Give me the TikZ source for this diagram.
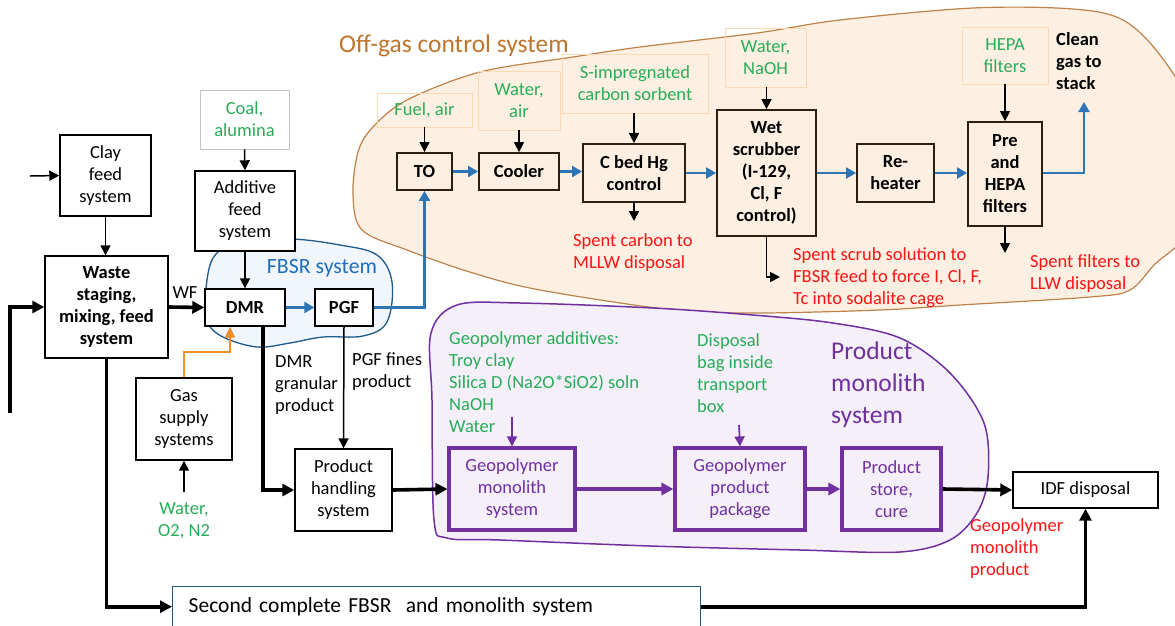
\documentclass[tikz,border=0pt]{standalone}
\usepackage{fontspec}
\setmainfont{Carlito}
\usetikzlibrary{arrows.meta,calc}
\definecolor{txtgreen}{RGB}{40,172,88}
\definecolor{txtred}{RGB}{250,20,20}
\definecolor{procpurple}{RGB}{112,48,160}
\definecolor{flowblue}{RGB}{46,117,182}
\definecolor{gasorange}{RGB}{237,140,40}
\definecolor{ogtitle}{RGB}{190,118,45}
\definecolor{ogedge}{RGB}{190,130,75}
\definecolor{ogfill}{RGB}{253,240,226}
\definecolor{fbedge}{RGB}{30,90,140}
\definecolor{fbfill}{RGB}{240,246,252}
\definecolor{fbtext}{RGB}{30,110,190}
\definecolor{pmfill}{RGB}{244,239,248}
\definecolor{ogbox}{RGB}{45,30,18}
\definecolor{feededge}{RGB}{250,218,180}
\definecolor{coaledge}{RGB}{195,195,195}
\definecolor{secondedge}{RGB}{35,85,125}
\newcommand\basefont{\fontsize{18.5}{22}\selectfont}
\newcommand\bigfont{\fontsize{25.5}{32}\selectfont}

\begin{document}
\begin{tikzpicture}[x=1pt,y=-1pt,font=\basefont,
  blk/.style={draw=black, line width=1.4pt, fill=white, align=center, inner sep=0pt},
  blkb/.style={blk, font=\basefont\bfseries},
  ogproc/.style={draw=ogbox, line width=1.8pt, align=center, inner sep=0pt, font=\basefont\bfseries},
  feed/.style={draw=feededge, line width=0.8pt, align=center, inner sep=0pt, text=txtgreen},
  pproc/.style={draw=procpurple, line width=3.2pt, align=center, inner sep=0pt, text=procpurple},
  note/.style={align=left, inner sep=0pt, anchor=west},
  thinarr/.style={line width=1.5pt, -{Triangle[length=10pt,width=10pt]}},
  thickarr/.style={line width=3.6pt, -{Triangle[length=12pt,width=12pt]}},
  bluearr/.style={draw=flowblue, line width=2.2pt, -{Triangle[length=10pt,width=11pt]}},
  purparr/.style={draw=procpurple, line width=3.2pt, -{Triangle[length=12pt,width=12pt]}},
  purpthin/.style={draw=procpurple, line width=1.7pt, -{Triangle[length=10pt,width=10pt]}},
  orangearr/.style={draw=gasorange, line width=2pt, -{Triangle[length=11pt,width=10pt]}}
]
\useasboundingbox (0,0) rectangle (1175,625);
\clip (0,0) rectangle (1175,625);

% ---------- system envelopes ----------
\draw[draw=ogedge, fill=ogfill, line width=1.2pt] plot[smooth cycle, tension=0.55] coordinates {
  (353,195) (358,152) (373,127) (407,100) (480,72) (573,57) (640,47) (757,33)
  (840,20) (973,8) (1073,9) (1123,20) (1160,55) (1192,110) (1200,180) (1186,235)
  (1155,264) (1130,290) (1090,297) (960,305) (880,310) (757,313) (673,310)
  (540,290) (473,273) (407,250) (362,230)};
\draw[draw=fbedge, fill=fbfill, line width=1.3pt] plot[smooth cycle, tension=0.6] coordinates {
  (205,300) (213,258) (240,243) (290,239) (340,245) (377,255) (392,282)
  (387,322) (363,336) (323,337) (290,343) (257,347) (223,337) (207,322)};
\draw[draw=procpurple, fill=pmfill, line width=1.5pt] plot[smooth cycle, tension=0.55] coordinates {
  (457,305) (520,303) (653,308) (753,315) (833,323) (900,338) (950,373) (984,423)
  (988,477) (977,513) (950,540) (900,552) (800,550) (650,546) (500,540) (447,538)
  (434,520) (432,400) (431,333)};

% ---------- envelope titles ----------
\node[note, text=ogtitle, font=\bigfont] (ogtitle) at (339,46) {Off-gas control system};
\node[text=fbtext, font=\fontsize{21.8}{26}\selectfont, inner sep=0pt] (fbtitle) at (322,268) {FBSR system};
\node[note, text=procpurple, font=\bigfont] (pmtitle) at (831,385) {Product\\monolith\\system};

% ---------- feed and FBSR nodes ----------
\node[blk, minimum width=91, minimum height=81] (clay) at (105.5,175.5) {Clay\\feed\\system};
\node[blk, draw=coaledge, line width=0.9pt, text=txtgreen, minimum width=89, minimum height=59] (coal) at (244.5,119.5) {Coal,\\alumina};
\node[blk, minimum width=100, minimum height=80] (additive) at (245,211) {Additive\\feed\\system};
\node[blkb, minimum width=123, minimum height=102] (waste) at (106.5,307) {Waste\\staging,\\mixing, feed\\system};
\node[blkb, minimum width=80, minimum height=37] (dmr) at (245,307.5) {DMR};
\node[blkb, minimum width=58, minimum height=37] (pgf) at (344,307.5) {PGF};
\node[blk, minimum width=96, minimum height=82] (gas) at (184,419) {Gas\\supply\\systems};
\node[text=txtgreen, align=center, inner sep=0pt] (gasfeed) at (184,521) {Water,\\O2, N2};
\node[blk, minimum width=97, minimum height=82] (handling) at (343.5,490) {Product\\handling\\system};
\node[inner sep=0pt] (wf) at (185,293) {WF};
\node[note] (dmrlbl) at (275,385) {DMR\\granular\\product};
\node[note] (pgflbl) at (352,372) {PGF fines\\product};

% ---------- off-gas nodes ----------
\node[ogproc, minimum width=55, minimum height=37] (to) at (424.5,171.5) {TO};
\node[ogproc, minimum width=80, minimum height=37] (cooler) at (519,171.5) {Cooler};
\node[ogproc, minimum width=102, minimum height=58] (cbed) at (634,173) {C bed Hg\\control};
\node[ogproc, minimum width=99, minimum height=126] (wet) at (766.5,173) {Wet\\scrubber\\(I-129,\\Cl, F\\control)};
\node[ogproc, minimum width=77, minimum height=58] (reheat) at (895.5,173) {Re-\\heater};
\node[ogproc, minimum width=74, minimum height=104] (hepa) at (1005,174) {Pre\\and\\HEPA\\filters};

\node[feed, minimum width=95, minimum height=34] (fuel) at (424.5,110) {Fuel, air};
\node[feed, minimum width=82, minimum height=59] (wair) at (519,100.5) {Water,\\air};
\node[feed, minimum width=146, minimum height=59] (simp) at (635,83.5) {S-impregnated\\carbon sorbent};
\node[feed, minimum width=81, minimum height=59] (naoh) at (765.5,57.5) {Water,\\NaOH};
\node[feed, minimum width=86, minimum height=57] (hepain) at (1005,55.5) {HEPA\\filters};

\node[note, font=\basefont\bfseries] (clean) at (1056,61) {Clean\\gas to\\stack};
\node[note, text=txtred] (spentc) at (573,253) {Spent carbon to\\MLLW disposal};
\node[note, text=txtred] (spents) at (793,278) {Spent scrub solution to\\FBSR feed to force I, Cl, F,\\Tc into sodalite cage};
\node[note, text=txtred] (spentf) at (1030,274) {Spent filters to\\LLW disposal};

% ---------- product monolith nodes ----------
\node[pproc, minimum width=126, minimum height=82] (geomono) at (512,489) {Geopolymer\\monolith\\system};
\node[pproc, minimum width=130, minimum height=82] (geopack) at (740,489) {Geopolymer\\product\\package};
\node[pproc, minimum width=99, minimum height=82] (store) at (891.5,489) {Product\\store,\\cure};
\node[note, text=txtgreen] (addlbl) at (449,382) {Geopolymer additives:\\Troy clay\\Silica D (Na2O*SiO2) soln\\NaOH\\Water};
\node[note, text=txtgreen] (baglbl) at (697,373) {Disposal\\bag inside\\transport\\box};
\node[blk, minimum width=145, minimum height=36] (idf) at (1085.5,490) {IDF disposal};
\node[note, text=txtred] (geoprod) at (970,549) {Geopolymer\\monolith\\product};
\node[blk, draw=secondedge, anchor=north west, minimum width=528, minimum height=40,
      text width=496, inner xsep=16pt, align=left, font=\fontsize{21.5}{26}\selectfont] (second) at (172,586)
      {Second complete FBSR \ and monolith system};

% ---------- free connector ends ----------
\coordinate (clayin) at (30,176);
\coordinate (wastein) at (10,413);
\coordinate (gasin) at (184,492);
\coordinate (addin) at (512,417);
\coordinate (bagin) at (739,425);
\coordinate (cbedout) at (634,221);
\coordinate (wetout) at (780,277);
\coordinate (hepaout) at (1005,253);
\coordinate (stack) at (1084,102);

% ---------- feed-side connectors ----------
\draw[thinarr] (clayin) -- (clay.west);
\draw[thinarr] (clay.south) -- (clay.south |- waste.north);
\draw[thinarr] (coal.south) -- (additive.north);
\draw[thinarr] (additive.south) -- (dmr.north);
\draw[thickarr] (wastein) |- (waste.west);
\draw[thickarr] (waste.east) -- (dmr.west);
\draw[bluearr] (dmr.east) -- (pgf.west);
\draw[bluearr] (pgf.east) -| (to.south);
\draw[orangearr] (gas.north) |- ($(dmr.south)+(-15,25)$) -- ($(dmr.south)+(-15,0)$);
\draw[thinarr] (gasin) -- (gas.south);
\draw[thickarr] ($(dmr.south)+(18,0)$) |- (handling.west);
\draw[thinarr] (pgf.south) -- (handling.north);
\draw[thickarr] (waste.south) |- (second.west);
\draw[thickarr] (second.east) -| (idf.south);

% ---------- off-gas connectors ----------
\draw[thinarr] (fuel.south) -- (to.north);
\draw[thinarr] (wair.south) -- (cooler.north);
\draw[thinarr] (simp.south -| cbed.north) -- (cbed.north);
\draw[thinarr] (naoh.south -| wet.north) -- (wet.north);
\draw[thinarr] (hepain.south) -- (hepa.north);
\draw[bluearr] (to.east) -- (cooler.west);
\draw[bluearr] (cooler.east) -- (cooler.east -| cbed.west);
\draw[bluearr] (cbed.east) -- (cbed.east -| wet.west);
\draw[bluearr] (reheat.west -| wet.east) -- (reheat.west);
\draw[bluearr] (reheat.east) -- (reheat.east -| hepa.west);
\draw[bluearr] (hepa.east |- reheat.east) -| (stack);
\draw[thinarr] (cbed.south) -- (cbedout);
\draw[thinarr] (wet.south) |- (wetout);
\draw[thinarr] (hepa.south) -- (hepaout);

% ---------- product connectors ----------
\draw[thickarr] (handling.east) -- (geomono.west);
\draw[purparr] (geomono.east) -- (geopack.west);
\draw[purparr] (geopack.east) -- (store.west);
\draw[thickarr] (store.east) -- (idf.west);
\draw[purpthin] (addin) -- (geomono.north);
\draw[purpthin] (bagin) -- (geopack.north);
\end{tikzpicture}
\end{document}
